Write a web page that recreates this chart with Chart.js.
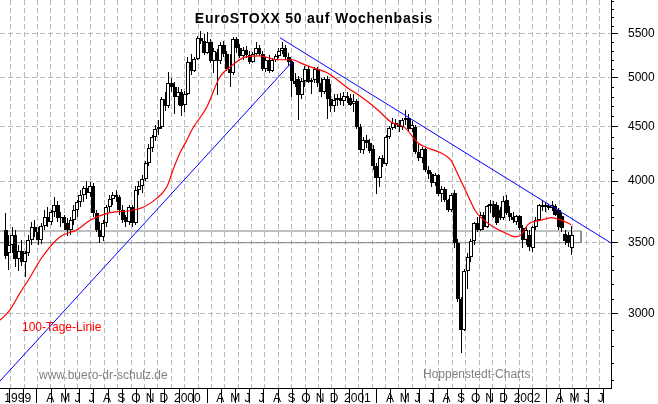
<!DOCTYPE html>
<html>
<head>
<meta charset="utf-8">
<script src="https://cdn.jsdelivr.net/npm/chart.js@4.4.1/dist/chart.umd.min.js"></script>
<style>
  html, body { margin: 0; padding: 0; background: #fff; }
  canvas { display: block; }
</style>
</head>
<body>
<canvas id="stoxxChart" width="658" height="404"></canvas>
<script>
// Weekly candles, first week ending 1999-01-08 (day 7 counted from 1999-01-01)
const firstWeekDay = 7;

const weekOpen = [
  3600,3420,3480,3560,3380,3440,3360,3420,3520,3620,
  3580,3520,3630,3700,3660,3740,3800,3690,3700,3650,
  3600,3680,3760,3820,3880,3940,3900,3960,3730,3600,
  3540,3650,3780,3850,3880,3860,3760,3700,3660,3780,
  3650,3920,3960,4020,4160,4300,4400,4480,4500,4780,
  4700,4950,
  // 2000
  4900,4800,4850,4720,4830,5180,5080,5210,
  5450,5420,5280,5400,5190,5290,5190,5370,5260,5100,
  5050,5440,5330,5240,5310,5250,5180,5260,5330,5260,
  5100,5200,5080,5200,5240,5300,5330,5230,5170,4970,
  4990,4820,4970,5100,4960,4980,5100,4940,4850,4990,
  4780,4700,4770,4790,
  // 2001
  4760,4810,4790,4730,4760,4500,
  4280,4370,4340,4290,4130,4030,4200,4150,4400,4490,
  4540,4520,4500,4560,4580,4480,4500,4260,4200,4290,
  4100,4060,3980,4050,3890,3930,3840,3760,3900,3500,
  3100,2900,3290,3390,3510,3650,3600,3720,3620,3790,
  3810,3800,3760,3690,3840,3730,
  // 2002
  3700,3660,3710,3610,
  3520,3560,3460,3620,3680,3800,3780,3790,3770,3790,
  3760,3710,3570,3560,3460
];
const weekHigh = [
  3730,3560,3620,3600,3480,3520,3440,3560,3660,3680,
  3620,3650,3760,3780,3760,3860,3830,3740,3720,3690,
  3700,3800,3840,3920,3960,4000,3990,3980,3760,3660,
  3680,3800,3880,3910,3920,3880,3800,3720,3800,3800,
  3960,4000,4050,4180,4330,4420,4520,4560,4800,4850,
  5060,5000,
  4960,4900,4880,4860,5230,5270,5230,5470,
  5530,5500,5520,5440,5330,5320,5400,5420,5300,5270,
  5460,5460,5380,5340,5360,5300,5290,5400,5370,5300,
  5230,5250,5220,5260,5330,5400,5370,5280,5200,5050,
  5020,5000,5130,5130,5000,5120,5120,5000,5010,5020,
  4930,4830,4830,4840,
  4850,4850,4830,4830,4780,4530,
  4400,4420,4380,4320,4160,4220,4230,4420,4510,4580,
  4570,4560,4580,4660,4620,4550,4520,4330,4310,4300,
  4130,4080,4070,4060,3960,3950,3850,3900,3920,3530,
  3110,3310,3420,3530,3660,3700,3740,3740,3800,3840,
  3830,3820,3780,3870,3880,3790,
  3740,3720,3720,3640,
  3620,3600,3630,3700,3810,3830,3820,3810,3830,3810,
  3770,3730,3600,3580,3630
];
const weekLow = [
  3380,3300,3420,3320,3290,3330,3250,3400,3480,3540,
  3480,3490,3600,3620,3640,3700,3660,3620,3600,3550,
  3560,3640,3700,3780,3820,3850,3860,3700,3580,3500,
  3510,3620,3740,3800,3820,3720,3650,3620,3640,3620,
  3640,3880,3900,4000,4130,4260,4360,4420,4480,4650,
  4680,4850,
  4620,4720,4600,4640,4820,5030,5060,5200,
  5380,5250,5260,5160,5050,4820,5150,5230,5080,4900,
  5030,5280,5220,5200,5220,5150,5160,5250,5240,5080,
  5060,5050,5060,5180,5220,5260,5200,5130,4800,4900,
  4560,4780,4900,4940,4830,4950,4900,4800,4830,4570,
  4640,4640,4700,4720,
  4700,4740,4700,4640,4480,4250,
  4240,4300,4250,4100,3890,3950,4120,4130,4380,4470,
  4480,4450,4470,4520,4460,4450,4240,4180,4160,4080,
  4020,3950,3960,3870,3820,3820,3740,3740,3460,3080,
  2760,2890,3170,3360,3480,3580,3590,3600,3610,3730,
  3690,3640,3680,3680,3720,3670,
  3650,3640,3600,3460,
  3480,3440,3430,3600,3670,3750,3740,3760,3750,3710,
  3600,3580,3480,3470,3410
];
const weekClose = [
  3400,3480,3560,3380,3440,3360,3420,3520,3620,3580,
  3520,3630,3700,3660,3740,3800,3690,3700,3650,3600,
  3680,3760,3820,3880,3940,3900,3960,3730,3600,3540,
  3650,3780,3850,3880,3860,3760,3680,3660,3780,3650,
  3920,3960,4020,4160,4300,4400,4480,4500,4780,4700,
  4950,4900,
  4800,4850,4700,4830,5180,5080,5210,5450,
  5420,5280,5400,5190,5300,5190,5370,5260,5100,5050,
  5440,5330,5240,5310,5250,5180,5260,5330,5260,5100,
  5200,5080,5200,5240,5300,5330,5230,5170,4970,4930,
  4820,4970,5100,4960,4980,5100,4940,4850,4990,4780,
  4700,4770,4790,4760,
  4810,4790,4720,4760,4500,4280,
  4370,4340,4270,4130,4030,4200,4150,4400,4490,4540,
  4520,4500,4560,4580,4480,4520,4260,4200,4290,4100,
  4060,3980,4050,3890,3930,3840,3760,3880,3500,3100,
  2900,3290,3390,3510,3650,3600,3720,3620,3790,3810,
  3700,3650,3690,3830,3730,3700,
  3680,3710,3610,3520,
  3600,3470,3620,3680,3800,3780,3800,3770,3800,3720,
  3620,3610,3510,3500,3560
];

// 100-Tage-Linie (days since 1999-01-01, index value)
const maDays = [-5, 16, 38, 60, 81, 124, 161, 189, 232, 281, 303, 333, 354, 367, 382, 397, 408,
  440, 468, 496, 522, 554, 591, 625, 641, 669, 699, 744, 772, 808, 836, 866, 894, 910, 944,
  965, 976, 996, 1017, 1030, 1060, 1082, 1103, 1116, 1131, 1159, 1181, 1202, 1224];
const maValues = [2960, 3025, 3140, 3250, 3370, 3545, 3600, 3675, 3735, 3755, 3780, 3855, 3950, 4095, 4250, 4370, 4470,
  4695, 5010, 5145, 5230, 5245, 5200, 5200, 5165, 5110, 5055, 4890, 4800, 4665, 4545, 4490, 4345, 4305, 4250,
  4185, 4095, 3925, 3755, 3695, 3615, 3575, 3545, 3560, 3640, 3675, 3695, 3675, 3640];

// trend lines and support band
const trendUpDays = [-5.1, 625.4];
const trendUpValues = [2595, 5186];
const trendDownDays = [597.4, 1309.7];
const trendDownValues = [5454, 3498];
const bandDays = [-5.1, 1245.2, 1245.2, -5.1];
const bandValues = [3590, 3590, 3500, 3500];

// axis labels
const yTickValues = [3000, 3500, 4000, 4500, 5000, 5500];
const yearLabels = ['1999', '2000', '2001', '2002'];
const monthLetters = ['', '', '', 'A', 'M', 'J', 'J', 'A', 'S', 'O', 'N', 'D'];

const X_MIN = -5.1, X_MAX = 1309.7;
const Y_MIN = 2556, Y_MAX = 5918;
const FONT = 'Liberation Sans, Arial, sans-serif';

Chart.defaults.font.family = FONT;

const weekDays = weekOpen.map((v, i) => firstWeekDay + 7 * i);
const toPoints = (xs, ys) => xs.map((x, i) => ({ x: x, y: ys[i] }));

// month ticks along the bottom (last one sits on the axis edge, no letter)
const monthTicks = [];
yearLabels.forEach((yr, yi) => {
  for (let m = 0; m < 12; m++) {
    const day = (Date.UTC(1999 + yi, m, 1) - Date.UTC(1999, 0, 1)) / 864e5;
    if (day > X_MAX) continue;
    const label = day > X_MAX - 15 ? '' : (m === 0 ? yr : monthLetters[m]);
    monthTicks.push({ day: day, label: label });
  }
});

// dashed vertical raster
const gridDays = [];
for (let d = 3.5; d <= 1272; d += 28.8) gridDays.push(d);

const upCandle = weekOpen.map((o, i) => weekClose[i] >= o);

// put candle bars on whole pixels so wicks stay crisp
const snapPlugin = {
  id: 'snapCandles',
  beforeDatasetDraw(chart, args) {
    if (args.meta.type !== 'bar') return;
    args.meta.data.forEach(el => {
      const w = el.width;
      el.x = Math.round(el.x - w / 2) + w / 2;
      el.y = Math.round(el.y);
      el.base = Math.round(el.base);
    });
  }
};

// minor ticks on price axis + text annotations
const extrasPlugin = {
  id: 'extras',
  afterDraw(chart) {
    const c = chart.ctx;
    const ys = chart.scales.y;
    const xr = chart.chartArea.right;
    c.save();
    c.strokeStyle = '#000';
    c.lineWidth = 1;
    c.beginPath();
    for (let v = 2600; v <= 5900; v += 100) {
      if (v % 500 === 0) continue;
      const py = Math.round(ys.getPixelForValue(v)) + 0.5;
      c.moveTo(xr, py);
      c.lineTo(xr + 3, py);
    }
    c.stroke();

    c.fillStyle = '#000';
    c.font = 'bold 14px ' + FONT;
    c.textAlign = 'center';
    c.textBaseline = 'alphabetic';
    c.letterSpacing = '0.75px';
    c.fillText('EuroSTOXX 50 auf Wochenbasis', 314, 23);
    c.letterSpacing = '0px';

    c.textAlign = 'left';
    c.font = '12px ' + FONT;
    c.fillStyle = '#ff0000';
    c.fillText('100-Tage-Linie', 22, 331);
    c.fillStyle = '#808080';
    c.fillText('www.buero-dr-schulz.de', 39, 379);
    c.fillText('Hoppenstedt-Charts', 423, 378);
    c.restore();
  }
};

const ctx = document.getElementById('stoxxChart').getContext('2d');

const chart = new Chart(ctx, {
  type: 'bar',
  data: {
    datasets: [
      {
        type: 'line',
        data: toPoints(bandDays, bandValues),
        borderColor: '#808080',
        borderWidth: 1,
        pointRadius: 0,
        fill: false,
        xAxisID: 'x',
        yAxisID: 'y',
        order: 4
      },
      {
        type: 'bar',
        data: weekDays.map((d, i) => ({ x: d, y: [weekLow[i], weekHigh[i]] })),
        backgroundColor: '#000',
        borderWidth: 0,
        barThickness: 1,
        grouped: false,
        inflateAmount: 0,
        xAxisID: 'x',
        yAxisID: 'y',
        order: 3
      },
      {
        type: 'bar',
        data: weekDays.map((d, i) => ({ x: d, y: [weekOpen[i], weekClose[i]] })),
        backgroundColor: upCandle.map(u => (u ? '#fff' : '#000')),
        borderColor: '#000',
        borderWidth: 1,
        borderSkipped: false,
        barThickness: 4,
        grouped: false,
        inflateAmount: 0,
        xAxisID: 'x',
        yAxisID: 'y',
        order: 2
      },
      {
        type: 'line',
        data: toPoints(maDays, maValues),
        borderColor: '#ff0000',
        borderWidth: 1.2,
        pointRadius: 0,
        cubicInterpolationMode: 'monotone',
        fill: false,
        xAxisID: 'x',
        yAxisID: 'y',
        order: 1
      },
      {
        type: 'line',
        data: toPoints(trendUpDays, trendUpValues),
        borderColor: '#0000ff',
        borderWidth: 1,
        pointRadius: 0,
        fill: false,
        xAxisID: 'x',
        yAxisID: 'y',
        order: 0
      },
      {
        type: 'line',
        data: toPoints(trendDownDays, trendDownValues),
        borderColor: '#0000ff',
        borderWidth: 1,
        pointRadius: 0,
        fill: false,
        xAxisID: 'x',
        yAxisID: 'y',
        order: 0
      }
    ]
  },
  options: {
    responsive: false,
    animation: false,
    devicePixelRatio: 1,
    events: [],
    layout: { padding: 0 },
    plugins: {
      legend: { display: false },
      tooltip: { enabled: false },
      title: { display: false }
    },
    scales: {
      x: {
        type: 'linear',
        position: 'bottom',
        min: X_MIN,
        max: X_MAX,
        offset: false,
        afterBuildTicks: s => { s.ticks = monthTicks.map(m => ({ value: m.day })); },
        afterFit: s => { s.height = 16; s.paddingLeft = 0; s.paddingRight = 0; },
        grid: { drawOnChartArea: false, drawTicks: true, tickLength: 15, tickColor: '#000', tickWidth: 1 },
        border: { display: true, color: '#000', width: 1 },
        ticks: {
          autoSkip: false,
          maxRotation: 0,
          minRotation: 0,
          align: 'start',
          labelOffset: 2,
          padding: -12,
          color: '#000',
          font: { size: 12 },
          callback: (v, i) => (monthTicks[i] ? monthTicks[i].label : '')
        }
      },
      xg: {
        type: 'linear',
        axis: 'x',
        position: 'top',
        min: X_MIN,
        max: X_MAX,
        offset: false,
        afterBuildTicks: s => { s.ticks = gridDays.map(d => ({ value: d })); },
        afterFit: s => { s.height = 0; s.paddingLeft = 0; s.paddingRight = 0; },
        grid: { color: '#b8b8b8', lineWidth: 1, drawTicks: false },
        border: { display: false, dash: [5, 3] },
        ticks: { display: false }
      },
      y: {
        type: 'logarithmic',
        position: 'right',
        min: Y_MIN,
        max: Y_MAX,
        afterBuildTicks: s => { s.ticks = yTickValues.map(v => ({ value: v })); },
        afterFit: s => { s.width = 47; s.paddingTop = 0; s.paddingBottom = 0; },
        grid: { color: '#b8b8b8', lineWidth: 1, drawTicks: true, tickLength: 7, tickColor: '#000' },
        border: { display: true, color: '#000', width: 1, dash: [5, 3] },
        ticks: {
          padding: 10,
          color: '#000',
          font: { size: 12 },
          callback: v => String(v)
        }
      }
    }
  },
  plugins: [snapPlugin, extrasPlugin]
});
</script>
</body>
</html>
